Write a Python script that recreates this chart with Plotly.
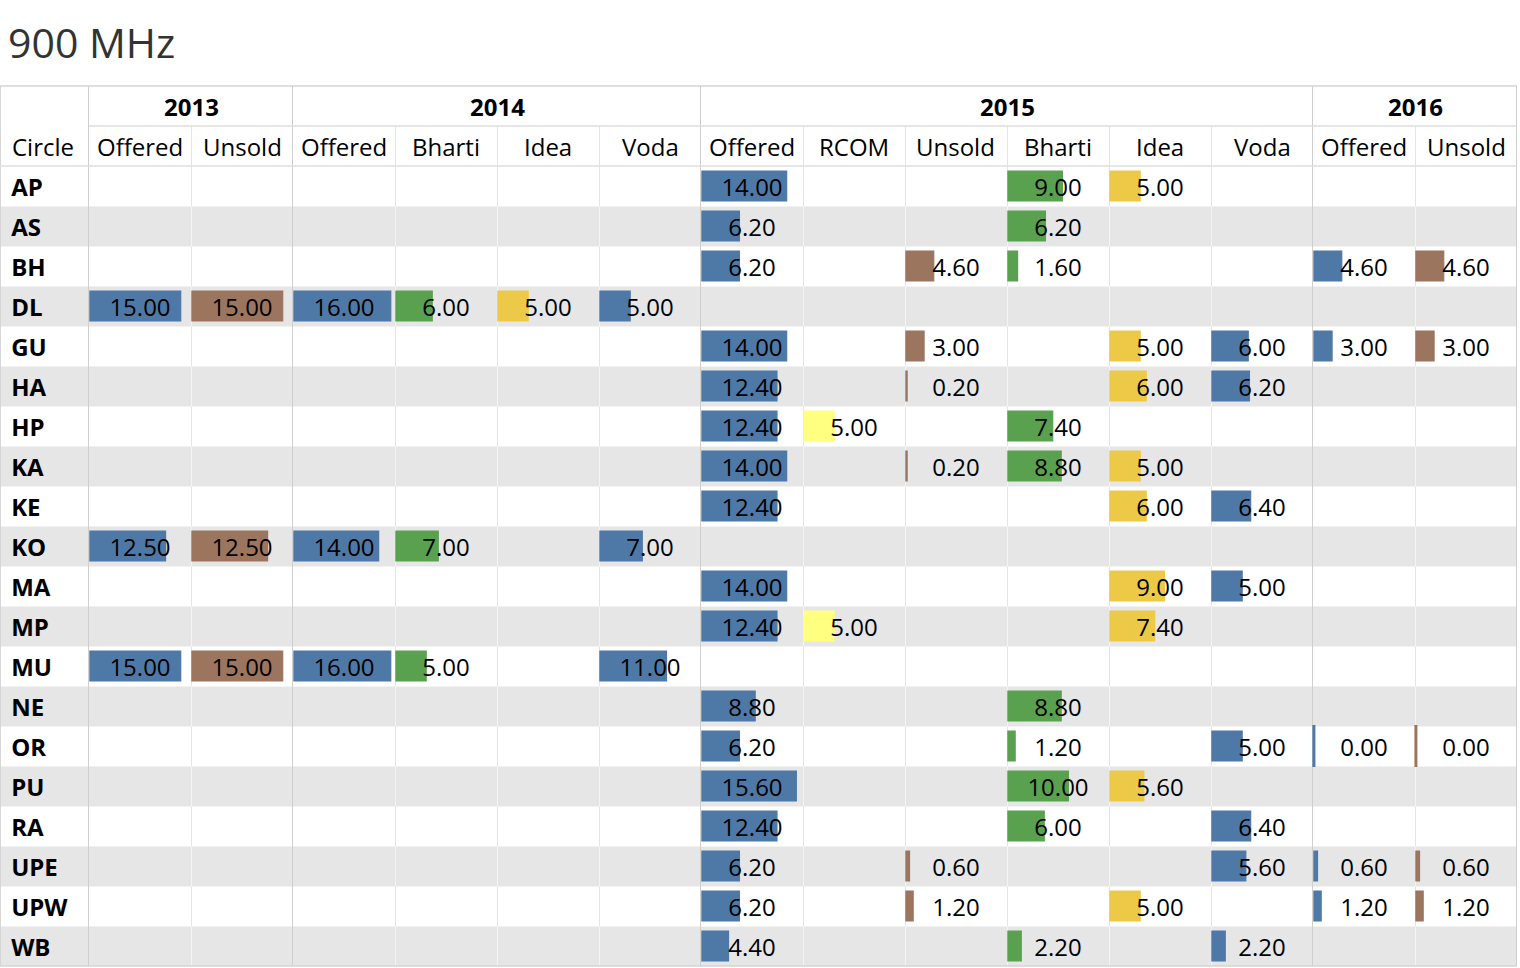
import plotly.graph_objects as go

# ---------------- data ----------------
circles = ["AP", "AS", "BH", "DL", "GU", "HA", "HP", "KA", "KE", "KO",
           "MA", "MP", "MU", "NE", "OR", "PU", "RA", "UPE", "UPW", "WB"]

offered_2013 = {"DL": 15.00, "KO": 12.50, "MU": 15.00}
unsold_2013 = {"DL": 15.00, "KO": 12.50, "MU": 15.00}

offered_2014 = {"DL": 16.00, "KO": 14.00, "MU": 16.00}
bharti_2014 = {"DL": 6.00, "KO": 7.00, "MU": 5.00}
idea_2014 = {"DL": 5.00}
voda_2014 = {"DL": 5.00, "KO": 7.00, "MU": 11.00}

offered_2015 = {"AP": 14.00, "AS": 6.20, "BH": 6.20, "GU": 14.00, "HA": 12.40,
                "HP": 12.40, "KA": 14.00, "KE": 12.40, "MA": 14.00, "MP": 12.40,
                "NE": 8.80, "OR": 6.20, "PU": 15.60, "RA": 12.40, "UPE": 6.20,
                "UPW": 6.20, "WB": 4.40}
rcom_2015 = {"HP": 5.00, "MP": 5.00}
unsold_2015 = {"BH": 4.60, "GU": 3.00, "HA": 0.20, "KA": 0.20, "UPE": 0.60, "UPW": 1.20}
bharti_2015 = {"AP": 9.00, "AS": 6.20, "BH": 1.60, "HP": 7.40, "KA": 8.80,
               "NE": 8.80, "OR": 1.20, "PU": 10.00, "RA": 6.00, "WB": 2.20}
idea_2015 = {"AP": 5.00, "GU": 5.00, "HA": 6.00, "KA": 5.00, "KE": 6.00,
             "MA": 9.00, "MP": 7.40, "PU": 5.60, "UPW": 5.00}
voda_2015 = {"GU": 6.00, "HA": 6.20, "KE": 6.40, "MA": 5.00, "OR": 5.00,
             "RA": 6.40, "UPE": 5.60, "WB": 2.20}

offered_2016 = {"BH": 4.60, "GU": 3.00, "OR": 0.00, "UPE": 0.60, "UPW": 1.20}
unsold_2016 = {"BH": 4.60, "GU": 3.00, "OR": 0.00, "UPE": 0.60, "UPW": 1.20}

years = ["2013", "2014", "2015", "2016"]
columns = [
    ("2013", "Offered", offered_2013), ("2013", "Unsold", unsold_2013),
    ("2014", "Offered", offered_2014), ("2014", "Bharti", bharti_2014),
    ("2014", "Idea", idea_2014), ("2014", "Voda", voda_2014),
    ("2015", "Offered", offered_2015), ("2015", "RCOM", rcom_2015),
    ("2015", "Unsold", unsold_2015), ("2015", "Bharti", bharti_2015),
    ("2015", "Idea", idea_2015), ("2015", "Voda", voda_2015),
    ("2016", "Offered", offered_2016), ("2016", "Unsold", unsold_2016),
]

colors = {"Offered": "#4e79a7", "Unsold": "#9c755f", "Bharti": "#59a14f",
          "Idea": "#edc948", "Voda": "#4e79a7", "RCOM": "#ffff80"}

# ---------------- geometry (pixels) ----------------
W, H = 1520, 968
FONT = "Open Sans"
FS = 24
TOP, YEAR_BOTTOM, HEAD_BOTTOM, BOTTOM = 86, 126, 166, 966
CIRCLE_W, COL_W = 89, 102
ROW_H = 40
TEXT_SHIFT = 4  # px, text baseline correction
RIGHT = CIRCLE_W + COL_W * len(columns)
X_MAX = 16.7
X_MIN = -0.15


def xp(px):
    return px / W


def yp(py):
    return 1 - py / H


fig = go.Figure()
layout = dict(
    width=W, height=H, margin=dict(l=0, r=0, t=0, b=0),
    paper_bgcolor="white", plot_bgcolor="rgba(0,0,0,0)",
    showlegend=False, hovermode=False,
    font=dict(family=FONT, size=FS, color="black"),
)

layout["yaxis"] = dict(
    domain=[yp(BOTTOM), yp(HEAD_BOTTOM)], anchor="x", type="category",
    categoryorder="array", categoryarray=circles,
    range=[len(circles) - 0.5, -0.5], visible=False, fixedrange=True,
)
# text layer: same categories, shifted down by TEXT_SHIFT px
text_rows = (BOTTOM - HEAD_BOTTOM - TEXT_SHIFT) / ROW_H
layout["yaxis2"] = dict(
    domain=[yp(BOTTOM), yp(HEAD_BOTTOM + TEXT_SHIFT)], anchor="x",
    type="category", categoryorder="array", categoryarray=circles,
    range=[text_rows - 0.5, -0.5], visible=False, fixedrange=True,
)

for k, (year, measure, data) in enumerate(columns):
    name = "xaxis" if k == 0 else f"xaxis{k + 1}"
    ref = "x" if k == 0 else f"x{k + 1}"
    x0 = CIRCLE_W + COL_W * k
    layout[name] = dict(domain=[xp(x0), xp(x0 + COL_W)], range=[X_MIN, X_MAX],
                        anchor="y", visible=False, fixedrange=True)
    ys = list(data.keys())
    vals = list(data.values())
    col = colors[measure]
    fig.add_trace(go.Bar(
        x=vals, y=ys, orientation="h", xaxis=ref, yaxis="y", base=0,
        width=0.75, marker=dict(color=col, line=dict(color=col, width=1.2)),
        hoverinfo="skip",
    ))
    zeros = [c for c, v in data.items() if v == 0]
    if zeros:
        fig.add_trace(go.Scatter(
            x=[data[c] for c in zeros], y=zeros, mode="markers", xaxis=ref, yaxis="y",
            marker=dict(symbol="line-ns", size=30, line=dict(color=col, width=3)),
            hoverinfo="skip", cliponaxis=False,
        ))
    mid = (X_MIN + X_MAX) / 2
    fig.add_trace(go.Scatter(
        x=[mid] * len(ys), y=ys, mode="text", xaxis=ref, yaxis="y2",
        text=[f"{v:.2f}" for v in vals], textposition="middle center",
        textfont=dict(family=FONT, size=FS, color="black"),
        hoverinfo="skip", cliponaxis=False,
    ))

# circle label column
cref_n = len(columns) + 1
layout[f"xaxis{cref_n}"] = dict(domain=[0, xp(CIRCLE_W)], range=[-0.125, 0.875],
                                anchor="y", visible=False, fixedrange=True)
fig.add_trace(go.Scatter(
    x=[0] * len(circles), y=circles, mode="text", xaxis=f"x{cref_n}", yaxis="y2",
    text=[f"<b>{c}</b>" for c in circles], textposition="middle right",
    textfont=dict(family=FONT, size=FS, color="black"),
    hoverinfo="skip", cliponaxis=False,
))

# ---------------- decorations ----------------
shapes = []
for i in range(len(circles)):
    if i % 2 == 1:
        top = HEAD_BOTTOM + ROW_H * i
        shapes.append(dict(type="rect", xref="paper", yref="paper",
                           x0=xp(0), x1=xp(RIGHT), y0=yp(top + ROW_H), y1=yp(top + 1),
                           fillcolor="#e6e6e6", line=dict(width=0), layer="below"))

group_edges = [CIRCLE_W]
count = 0
for y in years:
    count += sum(1 for c in columns if c[0] == y)
    group_edges.append(CIRCLE_W + COL_W * count)
inner_edges = [CIRCLE_W + COL_W * k for k in range(1, len(columns))
               if CIRCLE_W + COL_W * k not in group_edges]

path = ""
for e in inner_edges:
    path += f"M{xp(e + 0.5)},{yp(YEAR_BOTTOM)} L{xp(e + 0.5)},{yp(BOTTOM)} "
shapes.append(dict(type="path", xref="paper", yref="paper", path=path,
                   line=dict(color="#e4e4e4", width=1), layer="below"))
path = ""
for i in range(len(circles)):
    if i % 2 == 1:
        top = HEAD_BOTTOM + ROW_H * i
        for e in inner_edges:
            path += f"M{xp(e + 0.5)},{yp(top + 1)} L{xp(e + 0.5)},{yp(top + ROW_H)} "
shapes.append(dict(type="path", xref="paper", yref="paper", path=path,
                   line=dict(color="#f4f4f4", width=1), layer="below"))
path = ""
for i in range(1, len(circles)):
    yy = HEAD_BOTTOM + ROW_H * i + 0.5
    path += f"M{xp(0)},{yp(yy)} L{xp(RIGHT)},{yp(yy)} "
shapes.append(dict(type="path", xref="paper", yref="paper", path=path,
                   line=dict(color="#f3f3f3", width=1), layer="below"))
for e in group_edges:
    shapes.append(dict(type="line", xref="paper", yref="paper",
                       x0=xp(e - 0.5), x1=xp(e - 0.5), y0=yp(TOP), y1=yp(BOTTOM),
                       line=dict(color="#cfcfcf", width=1), layer="below"))
shapes.append(dict(type="line", xref="paper", yref="paper",
                   x0=xp(0.5), x1=xp(0.5), y0=yp(TOP), y1=yp(BOTTOM),
                   line=dict(color="#d6d6d6", width=1), layer="below"))
shapes.append(dict(type="line", xref="paper", yref="paper", x0=0, x1=xp(RIGHT),
                   y0=yp(TOP), y1=yp(TOP), line=dict(color="#d4d4d4", width=1.5), layer="below"))
shapes.append(dict(type="line", xref="paper", yref="paper", x0=xp(CIRCLE_W), x1=xp(RIGHT),
                   y0=yp(YEAR_BOTTOM), y1=yp(YEAR_BOTTOM), line=dict(color="#dedede", width=1.5), layer="below"))
shapes.append(dict(type="line", xref="paper", yref="paper", x0=0, x1=xp(RIGHT),
                   y0=yp(HEAD_BOTTOM), y1=yp(HEAD_BOTTOM), line=dict(color="#dedede", width=1.5), layer="below"))
shapes.append(dict(type="line", xref="paper", yref="paper", x0=0, x1=xp(RIGHT),
                   y0=yp(BOTTOM), y1=yp(BOTTOM), line=dict(color="#d4d4d4", width=1.5), layer="below"))

annotations = []
annotations.append(dict(text="900 MHz", x=xp(6), y=yp(42), xref="paper", yref="paper",
                        xanchor="left", yanchor="middle", showarrow=False,
                        font=dict(family=FONT, size=41, color="#333333")))
annotations.append(dict(text="Circle", x=xp(10), y=yp(147), xref="paper", yref="paper",
                        xanchor="left", yanchor="middle", showarrow=False,
                        font=dict(family=FONT, size=FS, color="black")))
for gi, yname in enumerate(years):
    cx = (group_edges[gi] + group_edges[gi + 1]) / 2
    annotations.append(dict(text=f"<b>{yname}</b>", x=xp(cx), y=yp(106), xref="paper", yref="paper",
                            xanchor="center", yanchor="middle", showarrow=False,
                            font=dict(family=FONT, size=FS, color="black")))
for k, (year, measure, data) in enumerate(columns):
    cx = CIRCLE_W + COL_W * k + COL_W / 2
    annotations.append(dict(text=measure, x=xp(cx), y=yp(147), xref="paper", yref="paper",
                            xanchor="center", yanchor="middle", showarrow=False,
                            font=dict(family=FONT, size=FS, color="black")))

layout["shapes"] = shapes
layout["annotations"] = annotations
fig.update_layout(**layout)
fig.write_html("out.html", config={"displayModeBar": False},
               post_script="document.body.style.margin='0';document.body.style.overflow='hidden';")
